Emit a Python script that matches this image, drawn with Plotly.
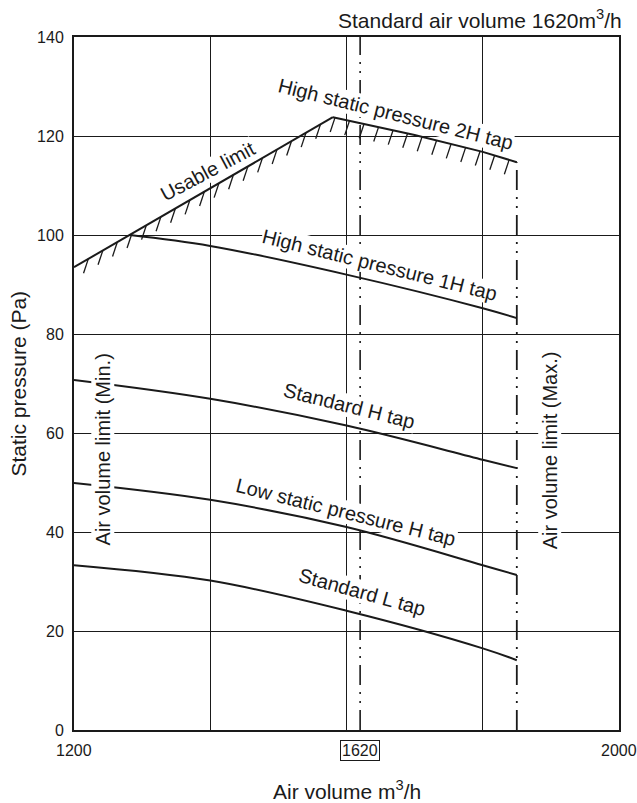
import numpy as np
import plotly.graph_objects as go

# ---------------- data ----------------
x_range = [1200, 2000]
y_range = [0, 140]
x_grid = [1400, 1600, 1800]
y_ticks = [0, 20, 40, 60, 80, 100, 120, 140]
x_tick_vals = [1200, 1620, 2000]
x_tick_text = ["1200", "1620", "2000"]

std_air = 1620          # standard air volume
max_air = 1850          # air volume limit (max.)

usable_x = [1200, 1580]
usable_y = [93.5, 123.8]
tap2h_x = [1580, 1700, 1800, 1850]
tap2h_y = [123.8, 120.2, 116.8, 114.7]
tap1h_x = [1282, 1400, 1600, 1800, 1850]
tap1h_y = [100.0, 97.8, 92.0, 85.2, 83.2]
curve_x = [1200, 1400, 1600, 1800, 1850]
stdh_y = [70.7, 66.9, 61.5, 54.6, 52.9]
lowh_y = [49.9, 46.5, 41.0, 33.3, 31.3]
stdl_y = [33.3, 30.2, 24.1, 16.5, 14.1]

FONT = "Liberation Sans, Arial, Helvetica, sans-serif"
INK = "#1a1a1a"
LW = 2.0

fig = go.Figure()

# hatching under the usable limit boundary
bx = usable_x + tap2h_x[1:]
by = usable_y + tap2h_y[1:]
hx = np.arange(1221, max_air, 21.3)
hy = np.interp(hx, bx, by)
hatch_x, hatch_y = [], []
for xv, yv in zip(hx, hy):
    hatch_x += [xv, xv - 7.0, None]
    hatch_y += [yv, yv - 2.9, None]
fig.add_trace(go.Scatter(x=hatch_x, y=hatch_y, mode="lines",
                         line=dict(color=INK, width=1.3), hoverinfo="skip"))

# limit lines (dash-dot-dot)
dashpat = "20px,7px,2px,7px,2px,7px"
fig.add_trace(go.Scatter(x=[std_air, std_air], y=y_range, mode="lines",
                         line=dict(color=INK, width=1.6, dash=dashpat)))
fig.add_trace(go.Scatter(x=[max_air, max_air], y=[0, tap2h_y[-1]], mode="lines",
                         line=dict(color=INK, width=1.8, dash=dashpat)))

# curves
fig.add_trace(go.Scatter(x=usable_x, y=usable_y, mode="lines",
                         line=dict(color=INK, width=LW)))
fig.add_trace(go.Scatter(x=tap2h_x, y=tap2h_y, mode="lines",
                         line=dict(color=INK, width=LW)))
for xs, ys in [(tap1h_x, tap1h_y), (curve_x, stdh_y), (curve_x, lowh_y), (curve_x, stdl_y)]:
    fig.add_trace(go.Scatter(x=xs, y=ys, mode="lines",
                             line=dict(color=INK, width=LW, shape="spline", smoothing=1.0)))

# ---------------- annotations ----------------
lab_font = dict(family=FONT, size=20, color=INK)
labels = [
    ("Usable limit", 1397, 112.9, -28),
    ("High static pressure 2H tap", 1672, 124.4, 14),
    ("High static pressure 1H tap", 1649, 93.9, 14),
    ("Standard H tap", 1605, 65.5, 14),
    ("Low static pressure H tap", 1599, 44.0, 14),
    ("Standard L tap", 1623, 27.9, 15.5),
    ("Air volume limit (Min.)", 1242, 56.6, -90),
    ("Air volume limit (Max.)", 1898, 56.4, -90),
]
ann = []
for txt, ax_, ay_, ang in labels:
    ann.append(dict(text=txt, x=ax_, y=ay_, xref="x", yref="y", showarrow=False,
                    textangle=ang, font=lab_font, bgcolor="white", borderpad=0,
                    xanchor="center", yanchor="middle"))

# x tick labels
for v, t in zip(x_tick_vals, x_tick_text):
    boxed = (v == std_air)
    ann.append(dict(text=t, x=v, y=0, xref="x", yref="paper", showarrow=False,
                    yanchor="middle", yshift=-20,
                    font=dict(family=FONT, size=16, color=INK),
                    bordercolor=INK if boxed else None,
                    borderwidth=1 if boxed else 0, borderpad=1))

# titles
ann.append(dict(text="Standard air volume 1620m<sup>3</sup>/h", x=1, y=1, xref="paper",
                yref="paper", xanchor="right", yanchor="middle", xshift=5, yshift=18,
                showarrow=False, font=dict(family=FONT, size=21, color=INK)))
ann.append(dict(text="Air volume m<sup>3</sup>/h", x=0.5, y=0, xref="paper", yref="paper",
                xanchor="center", yanchor="middle", yshift=-60, showarrow=False,
                font=dict(family=FONT, size=21, color=INK)))
ann.append(dict(text="Static pressure (Pa)", x=0, y=0.5, xref="paper", yref="paper",
                xanchor="center", yanchor="middle", xshift=-56, textangle=-90,
                showarrow=False, font=dict(family=FONT, size=21, color=INK)))

fig.update_layout(
    width=637, height=803,
    margin=dict(l=74, r=18, t=37, b=73),
    paper_bgcolor="white", plot_bgcolor="white",
    showlegend=False,
    annotations=ann,
    xaxis=dict(range=x_range, showgrid=False, zeroline=False, showline=True,
               linecolor=INK, linewidth=2, mirror=True, ticks="",
               tickvals=x_tick_vals, showticklabels=False,
               minor=dict(tickvals=x_grid, showgrid=True, gridcolor=INK, gridwidth=1.2)),
    yaxis=dict(range=y_range, tickvals=y_ticks, showgrid=True, gridcolor=INK,
               gridwidth=1.2, zeroline=False, showline=True, linecolor=INK,
               linewidth=2, mirror=True, ticks="", ticklabelstandoff=5,
               tickfont=dict(family=FONT, size=16, color=INK)),
)

fig.write_html("out.html")
